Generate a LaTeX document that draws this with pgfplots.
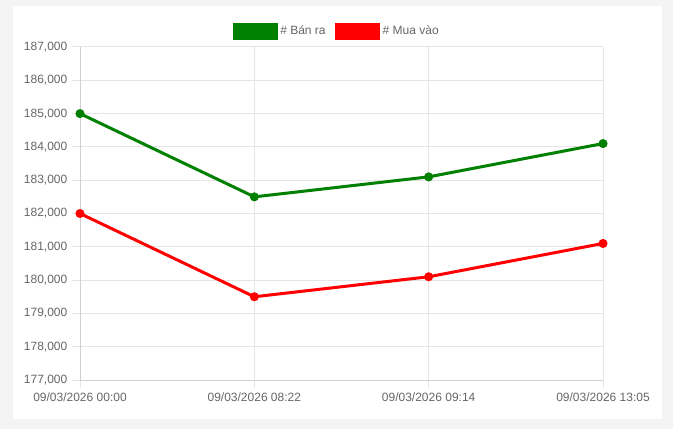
\documentclass[border=0pt]{standalone}
\usepackage{pgfplots}
\pgfplotsset{compat=1.18}
\usepackage{fontspec}
\setmainfont{Liberation Sans}
\definecolor{bg}{HTML}{F4F4F4}
\definecolor{txt}{HTML}{666666}
\definecolor{gridc}{HTML}{E5E5E5}
\definecolor{axc}{HTML}{CFCFCF}
\definecolor{cgreen}{HTML}{008000}
\definecolor{cred}{HTML}{FF0000}
\begin{document}
\begin{tikzpicture}[x=1pt,y=1pt]
\fill[bg] (0,0) rectangle (504.75,321.75);
\fill[white] (9.75,7.5) rectangle (496.5,317.25);
\begin{axis}[
  at={(60pt,36.75pt)}, anchor=south west,
  scale only axis, width=392.25pt, height=249.75pt,
  xmin=0, xmax=3, ymin=177000, ymax=187000,
  xtick={0,1,2,3},
  xticklabels={09/03/2026 00:00,09/03/2026 08:22,09/03/2026 09:14,09/03/2026 13:05},
  ytick={177000,178000,179000,180000,181000,182000,183000,184000,185000,186000,187000},
  yticklabels={{177,000},{178,000},{179,000},{180,000},{181,000},{182,000},{183,000},{184,000},{185,000},{186,000},{187,000}},
  scaled y ticks=false,
  tick align=outside, major tick length=6pt,
  tick style={draw=gridc, line width=0.75pt},
  grid=major, grid style={draw=gridc, line width=0.75pt},
  axis x line*=bottom, axis y line*=left,
  axis line style={draw=axc, line width=0.75pt, -},
  ticklabel style={font=\fontsize{9}{10}\selectfont, text=txt},
  legend columns=2,
  legend style={at={(0.4914,1.0465)}, anchor=center, draw=none, fill=none,
    font=\fontsize{9}{10}\selectfont, text=txt,
    /tikz/every even column/.append style={column sep=5pt},
    inner sep=0pt, cells={anchor=west}},
  legend cell align=left,
]
\addplot[cgreen, line width=2.25pt, mark=*, mark size=2.2pt, mark options={solid},
  legend image code/.code={\fill[cgreen] (0.75pt,-5.25pt) rectangle (32.25pt,5.25pt);}]
  coordinates {(0,185000) (1,182500) (2,183100) (3,184100)};
\addlegendentry{\# Bán ra}
\addplot[cred, line width=2.25pt, mark=*, mark size=2.2pt, mark options={solid},
  legend image code/.code={\fill[cred] (0.75pt,-5.25pt) rectangle (32.25pt,5.25pt);}]
  coordinates {(0,182000) (1,179500) (2,180100) (3,181100)};
\addlegendentry{\# Mua vào}
\end{axis}
\end{tikzpicture}
\end{document}
